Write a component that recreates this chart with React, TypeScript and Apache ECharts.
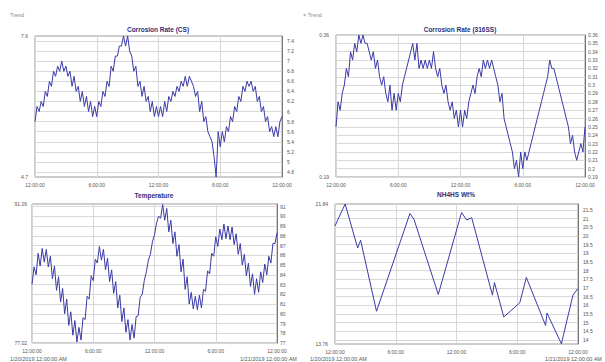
import React, { useEffect, useRef } from "react";
import * as echarts from "echarts";

// ---- labels ----
const timeTickLabels = ["12:00:00", "6:00:00", "12:00:00", "6:00:00", "12:00:00"];
const startDateLabel = "1/20/2019 12:00:00 AM";
const endDateLabel = "1/21/2019 12:00:00 AM";
const legendLabel = "Trend";
const sampleStepHours = 0.2;

// ---- Corrosion Rate (CS) ----
const csTitle = "Corrosion Rate (CS)";
const csValues = [
  5.8, 6.1, 6.0, 6.2, 6.1, 6.4, 6.3, 6.6, 6.5, 6.8,
  6.7, 6.9, 6.8, 7.0, 6.8, 6.9, 6.7, 6.8, 6.5, 6.7,
  6.4, 6.5, 6.2, 6.4, 6.1, 6.3, 6.0, 6.2, 5.9, 6.1,
  5.9, 6.2, 6.1, 6.4, 6.3, 6.6, 6.5, 6.9, 6.8, 7.1,
  7.1, 7.3, 7.3, 7.5, 7.3, 7.5, 7.2, 7.1, 6.8, 6.9,
  6.5, 6.6, 6.3, 6.5, 6.2, 6.3, 6.0, 6.2, 5.9, 6.1,
  5.9, 6.1, 5.9, 6.2, 6.0, 6.3, 6.2, 6.4, 6.3, 6.5,
  6.4, 6.6, 6.5, 6.7, 6.5, 6.7, 6.6, 6.5, 6.3, 6.4,
  6.0, 6.2, 5.8, 5.9, 5.6, 5.5, 5.4, 5.1, 4.7, 5.6,
  5.3, 5.6, 5.4, 5.7, 5.6, 5.9, 5.8, 6.1, 6.0, 6.3,
  6.2, 6.5, 6.4, 6.6, 6.5, 6.6, 6.4, 6.5, 6.2, 6.3,
  6.0, 6.1, 5.8, 5.9, 5.6, 5.7, 5.5, 5.7, 5.5, 5.8,
  5.9,
];
const csRange = [4.7, 7.5];
const csEdgeLabels = ["4.7", "7.6"];
const csTicks = [4.8, 5.0, 5.2, 5.4, 5.6, 5.8, 6.0, 6.2, 6.4, 6.6, 6.8, 7.0, 7.2, 7.4];
const csTickLabels = ["4.8", "5", "5.2", "5.4", "5.6", "5.8", "6", "6.2", "6.4", "6.6", "6.8", "7", "7.2", "7.4"];

// ---- Corrosion Rate (316SS) ----
const ssTitle = "Corrosion Rate (316SS)";
const ssValues = [
  0.25, 0.28, 0.27, 0.29, 0.30, 0.32, 0.31, 0.34, 0.33, 0.35,
  0.34, 0.36, 0.35, 0.36, 0.35, 0.35, 0.34, 0.33, 0.34, 0.32,
  0.33, 0.31, 0.30, 0.31, 0.29, 0.28, 0.30, 0.27, 0.29, 0.27,
  0.29, 0.28, 0.30, 0.31, 0.32, 0.33, 0.34, 0.35, 0.33, 0.35,
  0.32, 0.33, 0.32, 0.33, 0.32, 0.33, 0.32, 0.34, 0.32, 0.31,
  0.32, 0.30, 0.29, 0.30, 0.28, 0.27, 0.28, 0.26, 0.27, 0.25,
  0.27, 0.25, 0.27, 0.26, 0.28, 0.29, 0.30, 0.29, 0.31, 0.32,
  0.31, 0.33, 0.32, 0.33, 0.32, 0.33, 0.32, 0.31, 0.30, 0.28,
  0.29, 0.26, 0.25, 0.24, 0.23, 0.22, 0.20, 0.21, 0.19, 0.22,
  0.20, 0.22, 0.21, 0.22, 0.23, 0.24, 0.25, 0.26, 0.27, 0.28,
  0.29, 0.30, 0.31, 0.33, 0.32, 0.32, 0.31, 0.30, 0.29, 0.28,
  0.27, 0.26, 0.25, 0.23, 0.24, 0.22, 0.21, 0.22, 0.23, 0.22,
  0.25,
];
const ssRange = [0.19, 0.36];
const ssEdgeLabels = ["0.19", "0.36"];
const ssTicks = [0.19, 0.2, 0.21, 0.22, 0.23, 0.24, 0.25, 0.26, 0.27, 0.28, 0.29, 0.3, 0.31, 0.32, 0.33, 0.34, 0.35, 0.36];
const ssTickLabels = ["0.19", "0.2", "0.21", "0.22", "0.23", "0.24", "0.25", "0.26", "0.27", "0.28", "0.29", "0.3", "0.31", "0.32", "0.33", "0.34", "0.35", "0.36"];

// ---- Temperature ----
const tempTitle = "Temperature";
const tempValues = [
  83.0, 84.8, 84.0, 86.2, 84.9, 86.7, 85.3, 86.6, 84.8, 85.9,
  83.6, 84.9, 82.4, 83.8, 81.2, 82.6, 80.0, 81.5, 78.8, 80.2,
  77.8, 79.3, 77.1, 78.6, 77.3, 79.6, 79.4, 81.8, 81.5, 83.9,
  83.4, 85.6, 85.2, 86.9, 85.5, 86.6, 84.5, 85.7, 83.3, 84.5,
  82.1, 83.3, 80.6, 81.9, 79.2, 80.6, 78.1, 79.4, 77.3, 78.9,
  77.5, 79.7, 79.8, 81.7, 82.0, 83.4, 84.3, 85.5, 86.1, 87.4,
  88.1, 89.3, 90.0, 89.8, 91.2, 89.6, 90.8, 88.4, 89.6, 87.2,
  88.4, 85.9, 87.1, 84.3, 85.6, 82.5, 83.8, 81.0, 82.2, 80.5,
  81.8, 80.4, 81.9, 80.6, 82.5, 82.3, 84.4, 84.1, 86.2, 85.9,
  87.9, 86.9, 88.7, 87.6, 89.2, 87.7, 89.0, 87.6, 88.9, 87.1,
  88.2, 86.1, 87.2, 85.0, 86.1, 83.9, 85.2, 82.8, 84.1, 82.0,
  83.6, 82.2, 84.3, 83.2, 85.1, 84.0, 85.9, 85.2, 87.2, 87.2,
  88.3,
];
const tempRange = [77, 91.26];
const tempEdgeLabels = ["77.02", "91.26"];
const tempTicks = [77, 78, 79, 80, 81, 82, 83, 84, 85, 86, 87, 88, 89, 90, 91];
const tempTickLabels = ["77", "78", "79", "80", "81", "82", "83", "84", "85", "86", "87", "88", "89", "90", "91"];

// ---- NH4HS Wt% ----
const nhTitle = "NH4HS Wt%";
const nhTimes = [0, 1.0, 2.24, 2.53, 4.1, 7.4, 7.8, 10.2, 12.5, 13.0, 13.5, 15.55, 15.75, 16.67, 18.25, 18.9, 20.8, 20.94, 22.36, 23.5, 24];
const nhValues = [20.57, 21.84, 19.3, 19.75, 15.65, 21.29, 20.96, 16.62, 21.35, 20.92, 21.05, 16.58, 17.3, 15.32, 16.14, 17.6, 14.83, 15.55, 13.77, 16.58, 16.97];
const nhRange = [13.76, 21.84];
const nhEdgeLabels = ["13.76", "21.84"];
const nhTicks = [14, 14.5, 15, 15.5, 16, 16.5, 17, 17.5, 18, 18.5, 19, 19.5, 20, 20.5, 21, 21.5];
const nhTickLabels = ["14", "14.5", "15", "15.5", "16", "16.5", "17", "17.5", "18", "18.5", "19", "19.5", "20", "20.5", "21", "21.5"];

const FONT = "Liberation Sans, Arial, sans-serif";
const LINE_COLOR = "#3a3aa8";
const TEXT_COLOR = "#555";
const TITLE_COLOR = "#2e2e7a";

function evenSeries(values: number[]) {
  return values.map((v, i) => [i * sampleStepHours, v]);
}

export default function App() {
  const ref = useRef<HTMLDivElement>(null);

  useEffect(() => {
    if (!ref.current) return;
    const chart = echarts.init(ref.current, null, { renderer: "svg" });

    const panels = [
      {
        title: csTitle, titleX: 158, titleY: 29,
        grid: { left: 35, top: 36, width: 247, height: 141 },
        range: csRange, edge: csEdgeLabels, ticks: csTicks, tickLabels: csTickLabels,
        data: evenSeries(csValues), leftMargin: 7, rightMargin: 5,
      },
      {
        title: ssTitle, titleX: 460, titleY: 29,
        grid: { left: 336, top: 35, width: 249, height: 142 },
        range: ssRange, edge: ssEdgeLabels, ticks: ssTicks, tickLabels: ssTickLabels,
        data: evenSeries(ssValues), leftMargin: 7, rightMargin: 3,
      },
      {
        title: tempTitle, titleX: 154, titleY: 195,
        grid: { left: 32, top: 204, width: 245, height: 139 },
        range: tempRange, edge: tempEdgeLabels, ticks: tempTicks, tickLabels: tempTickLabels,
        data: evenSeries(tempValues), leftMargin: 5, rightMargin: 3,
      },
      {
        title: nhTitle, titleX: 456, titleY: 194,
        grid: { left: 335, top: 204, width: 243, height: 140 },
        range: nhRange, edge: nhEdgeLabels, ticks: nhTicks, tickLabels: nhTickLabels,
        data: nhTimes.map((t, i) => [t, nhValues[i]]), leftMargin: 7, rightMargin: 5,
      },
    ];

    const grids: any[] = [];
    const xAxes: any[] = [];
    const yAxes: any[] = [];
    const series: any[] = [];
    const graphics: any[] = [];

    panels.forEach((p, i) => {
      grids.push({
        ...p.grid,
        show: true,
        borderColor: "#9a9a9a",
        borderWidth: 1,
        backgroundColor: "#fff",
        containLabel: false,
      });
      xAxes.push({
        type: "value",
        gridIndex: i,
        min: 0,
        max: 24,
        interval: 6,
        axisLine: { show: false },
        axisTick: { show: false },
        splitLine: { show: true, lineStyle: { color: "#d8d8d8", width: 1 } },
        axisLabel: {
          fontSize: 5,
          fontFamily: FONT,
          color: TEXT_COLOR,
          margin: 5,
          formatter: (v: number) => timeTickLabels[Math.round(v / 6)] ?? "",
        },
      });
      yAxes.push({
        type: "value",
        gridIndex: i,
        position: "left",
        min: p.range[0],
        max: p.range[1],
        axisLine: { show: false },
        axisTick: { show: false, customValues: [p.range[0], p.range[1]] },
        splitLine: { show: false },
        axisLabel: {
          customValues: [p.range[0], p.range[1]],
          fontSize: 5,
          fontFamily: FONT,
          color: TEXT_COLOR,
          margin: p.leftMargin,
          formatter: (v: number) => (v === p.range[0] ? p.edge[0] : p.edge[1]),
        },
      });
      const rightIndex = yAxes.length;
      yAxes.push({
        type: "value",
        gridIndex: i,
        position: "right",
        min: p.range[0],
        max: p.range[1],
        axisLine: { show: true, lineStyle: { color: "#777", width: 1 } },
        axisTick: { show: false, customValues: p.ticks },
        splitLine: { show: true, lineStyle: { color: "#d8d8d8", width: 1 } },
        axisLabel: {
          customValues: p.ticks,
          fontSize: 5,
          fontFamily: FONT,
          color: TEXT_COLOR,
          margin: p.rightMargin,
          formatter: (v: number) => {
            const k = p.ticks.findIndex((t) => Math.abs(t - v) < 1e-9);
            return k >= 0 ? p.tickLabels[k] : "";
          },
        },
      });
      series.push({
        type: "line",
        xAxisIndex: i,
        yAxisIndex: rightIndex,
        data: p.data,
        showSymbol: false,
        symbol: "none",
        lineStyle: { color: LINE_COLOR, width: 1 },
        clip: true,
      });
      graphics.push({
        type: "text",
        x: p.titleX,
        y: p.titleY,
        style: {
          text: p.title,
          fill: TITLE_COLOR,
          fontSize: 6.5,
          fontWeight: "bold",
          fontFamily: FONT,
          textAlign: "center",
          textVerticalAlign: "middle",
        },
      });
    });

    const smallText = (text: string, x: number, y: number, color = "#777") => ({
      type: "text",
      x,
      y,
      style: {
        text,
        fill: color,
        fontSize: 5.5,
        fontFamily: FONT,
        textAlign: "left",
        textVerticalAlign: "middle",
      },
    });

    graphics.push(smallText(legendLabel, 10, 15, "#888"));
    graphics.push(smallText("\u00d7 " + legendLabel, 303, 15, "#888"));
    graphics.push(smallText(startDateLabel, 10, 359, TEXT_COLOR));
    graphics.push(smallText(endDateLabel, 240, 359, TEXT_COLOR));
    graphics.push(smallText(startDateLabel, 310, 359, TEXT_COLOR));
    graphics.push(smallText(endDateLabel, 545, 359, TEXT_COLOR));

    chart.setOption({
      animation: false,
      backgroundColor: "#fff",
      grid: grids,
      xAxis: xAxes,
      yAxis: yAxes,
      series,
      graphic: graphics,
    });

    return () => chart.dispose();
  }, []);

  return <div ref={ref} style={{ width: 605, height: 362, position: "absolute", left: 0, top: 0 }} />;
}
